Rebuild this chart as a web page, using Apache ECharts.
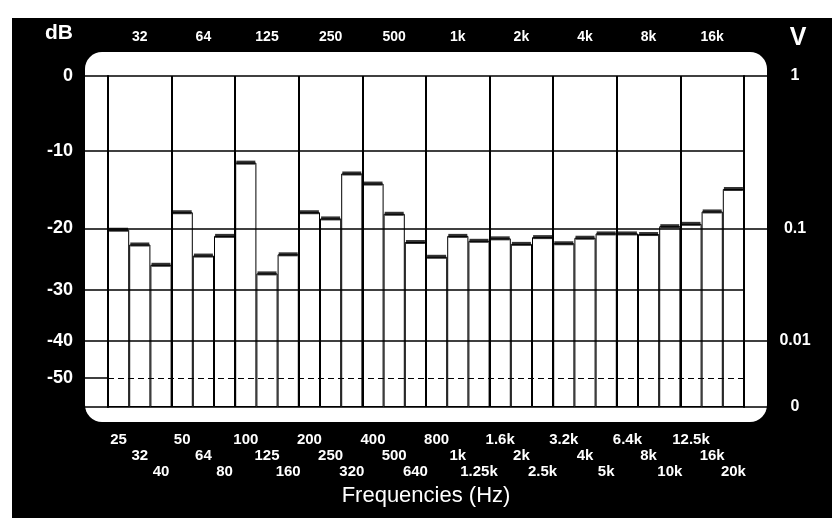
<!DOCTYPE html>
<html lang="en">
<head>
    <meta charset="UTF-8">
    <title>Frequencies (Hz)</title>
    <style>
        body { margin: 0; background: #fff; }
        #main { width: 832px; height: 518px; }
    </style>
    <script src="https://cdn.jsdelivr.net/npm/echarts@6/dist/echarts.min.js"></script>
</head>
<body>
    <div id="main"></div>
    <script>
        // 1/3 octave bands
        var bands = ['25','32','40','50','64','80','100','125','160','200','250','320','400','500','640',
                     '800','1k','1.25k','1.6k','2k','2.5k','3.2k','4k','5k','6.4k','8k','10k','12.5k','16k','20k'];
        // level of each band, dB
        var levels = [-20.2,-22.6,-25.9,-17.9,-24.4,-21.2,-11.5,-27.3,-24.2,-17.9,-18.7,-12.9,-14.2,-18.1,-22.2,
                      -24.6,-21.2,-22.0,-21.6,-22.5,-21.4,-22.4,-21.5,-20.8,-20.8,-20.9,-19.7,-19.4,-17.8,-14.9];
        // meter scale: dB marks and where they sit on the (non linear) scale, bottom = V 0
        var scaleDb  = [0, -10, -20, -30, -40, -50, -Infinity];
        var scalePos = [331, 256, 178.5, 117, 66, 29, 0];
        var dbLabels = ['0', '-10', '-20', '-30', '-40', '-50'];
        var voltDb = [0, -20, -40, -Infinity];
        var voltLabels = ['1', '0.1', '0.01', '0'];

        function toPos(db) {
            for (var i = 0; i < scaleDb.length - 1; i++) {
                if (db === scaleDb[i]) return scalePos[i];
                if (db < scaleDb[i] && db >= scaleDb[i + 1]) {
                    if (scaleDb[i + 1] === -Infinity) return scalePos[i + 1];
                    var t = (scaleDb[i] - db) / (scaleDb[i] - scaleDb[i + 1]);
                    return scalePos[i] + t * (scalePos[i + 1] - scalePos[i]);
                }
            }
            return 0;
        }

        var dbPos = dbLabels.map(function (l, i) { return toPos(scaleDb[i]); });
        var voltPos = voltDb.map(toPos);
        var barData = levels.map(toPos);

        var gridLines = dbPos.map(function (p, i) {
            return { yAxis: p, lineStyle: { type: i === 5 ? [6, 4] : 'solid', width: i === 5 ? 1 : 1.5 } };
        });

        var myChart = echarts.init(document.getElementById('main'));
        var font = 'Liberation Sans, Arial, sans-serif';

        var option = {
            animation: false,
            backgroundColor: 'transparent',
            graphic: [
                { type: 'rect', z: -20, shape: { x: 12, y: 18, width: 820, height: 500 }, style: { fill: '#000' } },
                { type: 'rect', z: -10, shape: { x: 85, y: 52, width: 682, height: 370, r: 17 }, style: { fill: '#fff' } }
            ],
            grid: { left: 108, right: 88, top: 76, bottom: 111 },
            xAxis: [
                {
                    type: 'category',
                    data: bands,
                    position: 'bottom',
                    axisLine: { lineStyle: { color: '#000', width: 1.5 } },
                    axisTick: { show: false },
                    axisLabel: {
                        interval: 0,
                        color: '#fff',
                        fontFamily: font,
                        fontWeight: 'bold',
                        fontSize: 15,
                        lineHeight: 16,
                        margin: 25,
                        formatter: function (v, i) {
                            return '\n'.repeat(i % 3) + v;
                        }
                    },
                    splitLine: {
                        show: true,
                        interval: function (i) { return i % 3 === 0; },
                        lineStyle: { color: '#000', width: 2 }
                    },
                    name: 'Frequencies (Hz)',
                    nameLocation: 'middle',
                    nameGap: 76,
                    nameTextStyle: { color: '#fff', fontFamily: font, fontSize: 22 }
                },
                {
                    type: 'category',
                    data: bands,
                    position: 'top',
                    axisLine: { show: false },
                    axisTick: { show: false },
                    axisLabel: {
                        interval: 0,
                        color: '#fff',
                        fontFamily: font,
                        fontWeight: 'bold',
                        fontSize: 14,
                        margin: 32,
                        formatter: function (v, i) {
                            return i % 3 === 1 ? v : '';
                        }
                    },
                    splitLine: { show: false }
                }
            ],
            yAxis: [
                {
                    type: 'value',
                    min: 0,
                    max: 331,
                    position: 'left',
                    name: 'dB',
                    nameLocation: 'end',
                    nameGap: 32,
                    nameTextStyle: { color: '#fff', fontFamily: font, fontSize: 21, fontWeight: 'bold', padding: [0, 98, 0, 0] },
                    axisLine: { show: true, lineStyle: { color: '#000', width: 2 } },
                    axisTick: { show: true, length: 23, customValues: dbPos.concat([0]), lineStyle: { color: '#000', width: 1.5 } },
                    axisLabel: {
                        customValues: dbPos,
                        margin: 35,
                        color: '#fff',
                        fontFamily: font,
                        fontWeight: 'bold',
                        fontSize: 18,
                        formatter: function (v) {
                            var i = dbPos.indexOf(v);
                            return i < 0 ? '' : dbLabels[i];
                        }
                    },
                    splitLine: { show: false }
                },
                {
                    type: 'value',
                    min: 0,
                    max: 331,
                    position: 'right',
                    name: 'V',
                    nameLocation: 'end',
                    nameGap: 25,
                    nameTextStyle: { color: '#fff', fontFamily: font, fontSize: 25, fontWeight: 'bold', padding: [0, 0, 0, 108] },
                    axisLine: { show: true, lineStyle: { color: '#000', width: 2 } },
                    axisTick: { show: true, length: 23, customValues: voltPos, lineStyle: { color: '#000', width: 1.5 } },
                    axisLabel: {
                        customValues: voltPos,
                        margin: 51,
                        align: 'center',
                        color: '#fff',
                        fontFamily: font,
                        fontWeight: 'bold',
                        fontSize: 16,
                        formatter: function (v) {
                            var i = voltPos.indexOf(v);
                            return i < 0 ? '' : voltLabels[i];
                        }
                    },
                    splitLine: { show: false }
                }
            ],
            series: [
                {
                    type: 'bar',
                    data: barData,
                    barCategoryGap: '0%',
                    itemStyle: { color: 'rgba(0,0,0,0)', borderColor: '#000', borderWidth: 1 },
                    silent: true,
                    markLine: {
                        silent: true,
                        symbol: ['none', 'none'],
                        label: { show: false },
                        lineStyle: { color: '#000', width: 1.5, type: 'solid' },
                        data: gridLines
                    }
                },
                {
                    type: 'scatter',
                    data: barData,
                    symbol: 'rect',
                    symbolSize: [19, 4],
                    itemStyle: { color: '#000' },
                    silent: true
                }
            ]
        };
        myChart.setOption(option);
    </script>
</body>
</html>
